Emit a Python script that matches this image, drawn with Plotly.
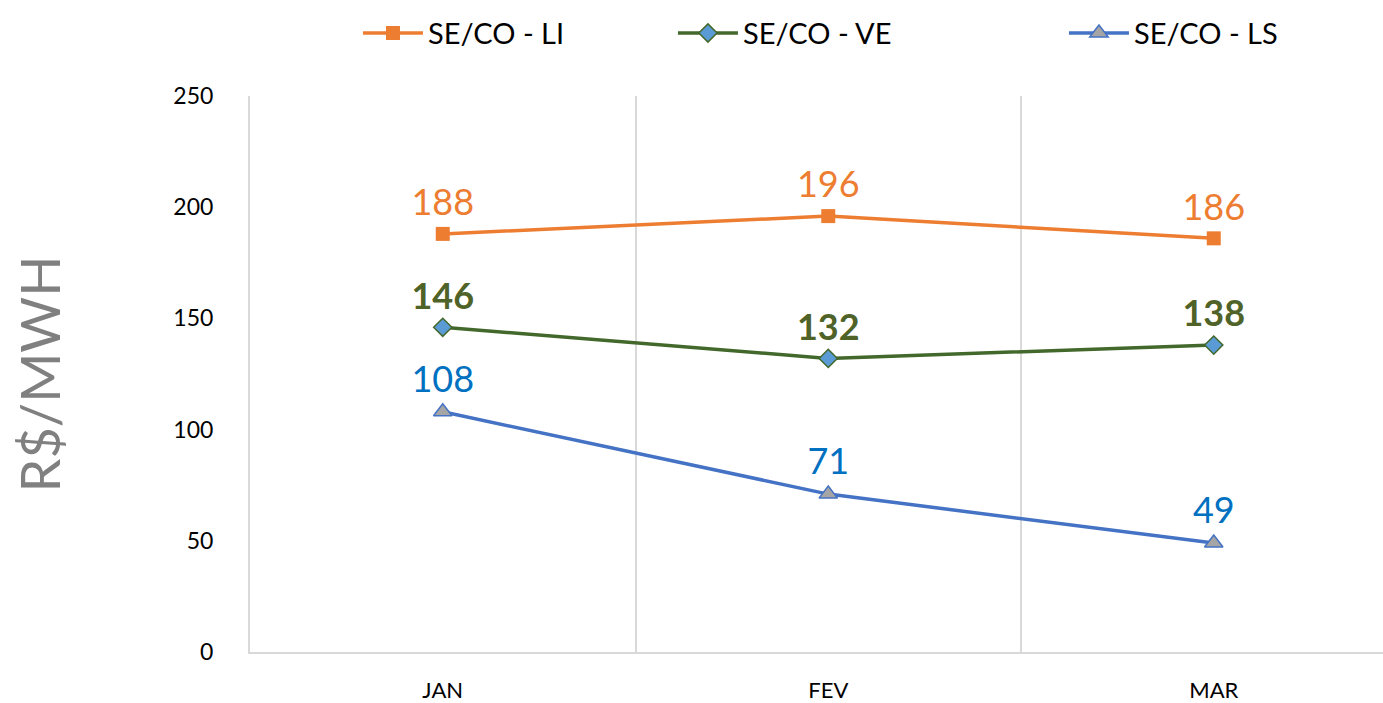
import plotly.graph_objects as go

months = ["JAN", "FEV", "MAR"]
seco_li = [188, 196, 186]
seco_ve = [146, 132, 138]
seco_ls = [108, 71, 49]

FONT = "Lato"

fig = go.Figure()

fig.add_trace(go.Scatter(
    x=months, y=seco_li, name="SE/CO - LI", mode="lines+markers+text",
    line=dict(color="#ED7D31", width=3.5),
    marker=dict(symbol="square", size=14, color="#ED7D31"),
    text=[str(v) for v in seco_li], textposition="top center",
    textfont=dict(family=FONT, size=36, color="#ED7D31"),
    legend="legend", showlegend=True,
))
fig.add_trace(go.Scatter(
    x=months, y=seco_ve, name="SE/CO - VE", mode="lines+markers+text",
    line=dict(color="#43682B", width=3.5),
    marker=dict(symbol="diamond", size=14, color="#5B9BD5",
                line=dict(color="#43682B", width=1.5)),
    text=["<b>%d</b>" % v for v in seco_ve], textposition="top center",
    textfont=dict(family=FONT, size=36, color="#4F6228"),
    legend="legend2", showlegend=True,
))
fig.add_trace(go.Scatter(
    x=months, y=seco_ls, name="SE/CO - LS", mode="lines+markers+text",
    line=dict(color="#4472C4", width=3.5),
    marker=dict(symbol="triangle-up", size=16, color="#A5A5A5",
                line=dict(color="#4472C4", width=1.5)),
    text=[str(v) for v in seco_ls], textposition="top center",
    textfont=dict(family=FONT, size=36, color="#0070C0"),
    legend="legend3", showlegend=True,
))

legend_common = dict(orientation="h", yanchor="middle", y=1.113, xanchor="left",
                     font=dict(family=FONT, size=29, color="#000000"),
                     bgcolor="rgba(0,0,0,0)", itemwidth=60)

fig.update_layout(
    width=1383, height=703,
    showlegend=True,
    margin=dict(l=250, r=0, t=96, b=51),
    plot_bgcolor="white", paper_bgcolor="white",
    font=dict(family=FONT, color="#000000"),
    legend=dict(x=0.0953, **legend_common),
    legend2=dict(x=0.3733, **legend_common),
    legend3=dict(x=0.7184, **legend_common),
    xaxis=dict(
        type="category", range=[-0.5, 2.439], tickson="boundaries",
        showgrid=True, gridcolor="#D9D9D9", gridwidth=2,
        showline=True, linecolor="#D9D9D9", linewidth=2,
        ticks="", ticklabelstandoff=18, automargin=False,
        tickfont=dict(family=FONT, size=22, color="#000000"),
    ),
    yaxis=dict(
        range=[0, 250], dtick=50, showgrid=False, zeroline=False,
        showline=True, linecolor="#D9D9D9", linewidth=2,
        ticks="", ticklabelstandoff=30, automargin=False,
        tickfont=dict(family=FONT, size=23, color="#000000"),
        title=dict(text="R$/MWH", standoff=95,
                   font=dict(family=FONT, size=54, color="#808080")),
    ),
)

fig.write_html("out.html")
